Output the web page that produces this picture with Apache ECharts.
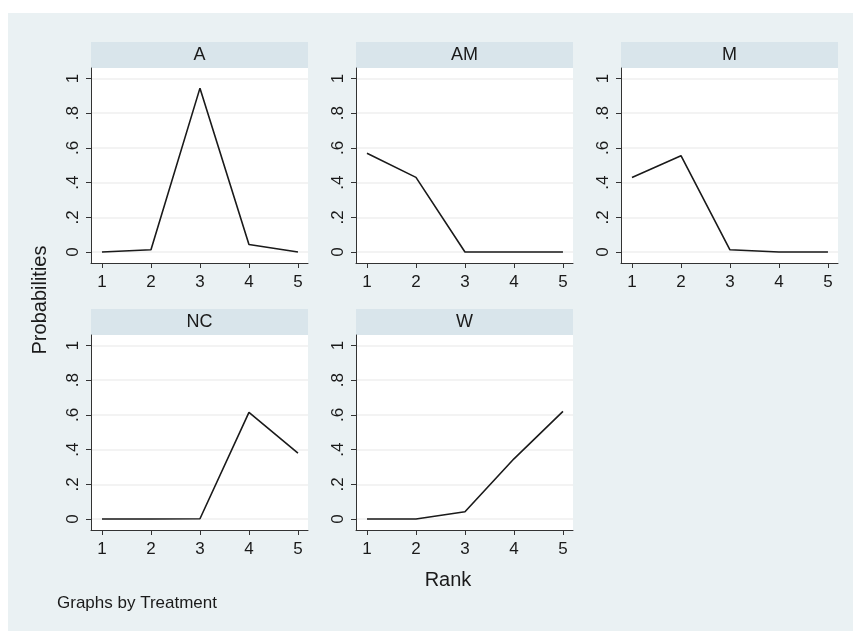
<!DOCTYPE html>
<html>
<head>
<meta charset="utf-8">
<script src="https://cdn.jsdelivr.net/npm/echarts@6/dist/echarts.min.js"></script>
<style>
  html, body { margin: 0; padding: 0; background: #fff; }
  #chart { width: 853px; height: 631px; }
</style>
</head>
<body>
<div id="chart"></div>
<script>
// values
const ranks = [1, 2, 3, 4, 5];
const treatments = ['A', 'AM', 'M', 'NC', 'W'];
const probA  = [0, 0.013, 0.944, 0.044, 0];
const probAM = [0.569, 0.43, 0, 0, 0];
const probM  = [0.43, 0.555, 0.013, 0, 0];
const probNC = [0, 0, 0.002, 0.614, 0.38];
const probW  = [0, 0, 0.042, 0.347, 0.62];
const yTicks = [0, 0.2, 0.4, 0.6, 0.8, 1];
const yTickLabels = ['0', '.2', '.4', '.6', '.8', '1'];

const series = [probA, probAM, probM, probNC, probW];

const font = 'Liberation Sans, Arial, sans-serif';
const ink = '#1a1a1a';

// panel boxes (plot area only, header strip sits above)
const lefts = [91, 356, 621];
const tops  = [68, 335];
const plotW = 217, plotH = 195, stripH = 26;

const grids = [], xAxes = [], yAxes = [], lines = [], strips = [];

treatments.forEach((name, i) => {
  const left = lefts[i % 3];
  const top  = tops[Math.floor(i / 3)];

  grids.push({
    left  : left,
    top   : top,
    width : plotW,
    height: plotH,
    show  : true,
    backgroundColor: '#ffffff',
    borderWidth: 0
  });

  xAxes.push({
    type     : 'value',
    gridIndex: i,
    min      : 0.776,
    max      : 5.205,
    axisLine : { show: true, onZero: false, lineStyle: { color: '#333', width: 1 } },
    axisTick : { show: true, length: 5, customValues: ranks, lineStyle: { color: '#333' } },
    axisLabel: {
      customValues: ranks,
      color: ink, fontSize: 17, fontFamily: font, margin: 11
    },
    splitLine: { show: false }
  });

  yAxes.push({
    type     : 'value',
    gridIndex: i,
    min      : -0.063,
    max      : 1.06,
    axisLine : { show: true, lineStyle: { color: '#333', width: 1 } },
    axisTick : { show: true, length: 5, customValues: yTicks, lineStyle: { color: '#333' } },
    axisLabel: {
      customValues: yTicks,
      rotate: 90,
      color : ink, fontSize: 17, fontFamily: font, margin: 9,
      formatter: v => yTickLabels[yTicks.findIndex(t => Math.abs(t - v) < 1e-6)] ?? ''
    },
    splitLine: { show: true, lineStyle: { color: '#efefef', width: 1.5 } }
  });

  lines.push({
    type      : 'line',
    name      : name,
    xAxisIndex: i,
    yAxisIndex: i,
    data      : ranks.map((r, k) => [r, series[i][k]]),
    showSymbol: false,
    symbol    : 'none',
    lineStyle : { color: ink, width: 1.6 },
    animation : false
  });

  strips.push({
    type : 'rect',
    shape: { x: left, y: top - stripH, width: plotW, height: stripH },
    style: { fill: '#d9e5eb' },
    z    : -1
  });
  strips.push({
    type : 'text',
    x    : left + plotW / 2,
    y    : top - stripH / 2,
    style: {
      text: name, fill: ink, font: `18px ${font}`,
      align: 'center', verticalAlign: 'middle'
    }
  });
});

const chart = echarts.init(document.getElementById('chart'));

chart.setOption({
  animation: false,
  grid : grids,
  xAxis: xAxes,
  yAxis: yAxes,
  series: lines,
  graphic: [
    {
      type : 'rect',
      shape: { x: 8, y: 13, width: 845, height: 618 },
      style: { fill: '#eaf1f3' },
      z    : -10
    },
    ...strips,
    {
      type    : 'text',
      x       : 40,
      y       : 300,
      rotation: Math.PI / 2,
      style   : {
        text: 'Probabilities', fill: ink, font: `20px ${font}`,
        align: 'center', verticalAlign: 'middle'
      }
    },
    {
      type : 'text',
      x    : 448,
      y    : 580,
      style: {
        text: 'Rank', fill: ink, font: `20px ${font}`,
        align: 'center', verticalAlign: 'middle'
      }
    },
    {
      type : 'text',
      x    : 57,
      y    : 603,
      style: {
        text: 'Graphs by Treatment', fill: ink, font: `17px ${font}`,
        align: 'left', verticalAlign: 'middle'
      }
    }
  ]
});
</script>
</body>
</html>
